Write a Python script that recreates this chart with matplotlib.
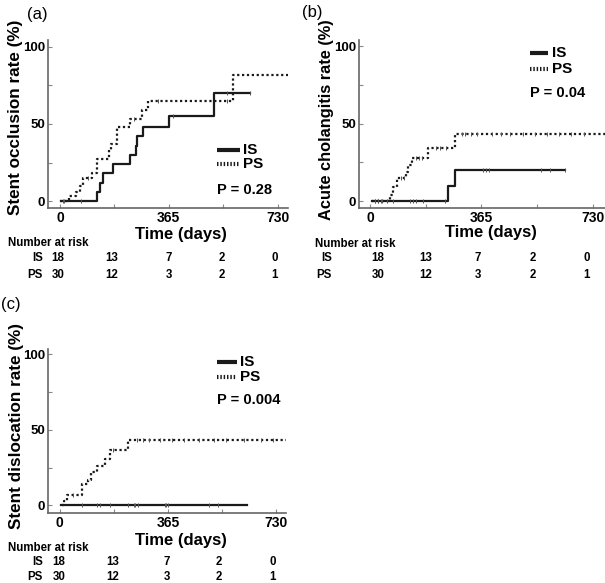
import numpy as np
import matplotlib

matplotlib.use("Agg")
import matplotlib.pyplot as plt

plt.rcParams["font.family"] = ["Liberation Sans", "DejaVu Sans"]

W, H = 605, 583

# (a) stent occlusion
occl_is_t = [3, 126, 134, 145, 178, 234, 254, 259, 277, 365, 517, 636]
occl_is_v = [0, 6, 12, 18, 24, 30, 36, 42, 48, 55, 70, 70]
occl_is_cens = [10, 70, 378, 560, 636]
occl_ps_t = [0, 30, 55, 68, 78, 108, 126, 165, 172, 193, 236, 276, 296, 580, 765]
occl_ps_v = [0, 3, 6, 10, 15, 18, 27, 33, 37, 48, 53, 59, 65, 82, 82]
occl_ps_cens = [15, 95, 250, 330, 560]

# (b) acute cholangitis
chol_is_t = [5, 257, 279, 639]
chol_is_v = [0, 10, 20, 20]
chol_is_cens = [15, 25, 35, 75, 130, 140, 150, 175, 245, 370, 380, 390, 560, 590, 639]
chol_ps_t = [5, 65, 76, 87, 117, 126, 137, 191, 279, 770]
chol_ps_v = [0, 4, 9, 15, 19, 23, 28, 34, 43, 43]
chol_ps_cens = [15, 25, 40, 55, 100, 110, 150, 160, 170, 215, 230, 250, 300, 310,
                330, 350, 400, 430, 460, 500, 540, 580, 620, 660, 700]

# (c) stent dislocation
disl_is_t = [5, 631]
disl_is_v = [0, 0]
disl_is_cens = [75, 125, 135, 170, 230, 250, 255, 265, 355, 360, 365, 505, 535]
disl_ps_t = [8, 14, 26, 75, 95, 107, 126, 154, 171, 230, 765]
disl_ps_v = [0, 3, 7, 14, 17, 22, 26, 31, 37, 43, 43]
disl_ps_cens = [45, 180, 260, 280, 300, 340, 380, 420, 470, 520, 560, 620, 680, 720]

p_values = ["P = 0.28", "P = 0.04", "P = 0.004"]
ylabels = ["Stent occlusion rate (%)", "Acute cholangitis rate (%)", "Stent dislocation rate (%)"]
panel_tags = ["(a)", "(b)", "(c)"]

risk_days = [0, 182.5, 365, 547.5, 730]
risk_is = [18, 13, 7, 2, 0]
risk_ps = [30, 12, 3, 2, 1]

INK = "#1a1a1a"


def fx(x):
    return x / W


def fy(y):
    return 1 - y / H


def step_val(t, v, x):
    i = np.searchsorted(t, x, side="right") - 1
    return np.asarray(v)[np.clip(i, 0, len(v) - 1)]


def draw_panel(box, xlim, ylim, is_t, is_v, is_c, ps_t, ps_v, ps_c, pval, ylabel, lay):
    l, t, r, b = box
    ax = fig.add_axes([fx(l), fy(b), fx(r - l), (b - t) / H])

    def af(xp, yp):
        return (xp - l) / (r - l), (b - yp) / (b - t)

    ax.plot(is_t, is_v, drawstyle="steps-post", color=INK, lw=1.6)
    ax.plot(ps_t, ps_v, drawstyle="steps-post", color=INK, lw=1.6,
            linestyle=(0, (1, 1.2)))
    ax.plot(is_c, step_val(is_t, is_v, is_c), "|", color="#555", ms=3, mew=0.7)
    ax.plot(ps_c, step_val(ps_t, ps_v, ps_c), "|", color="#555", ms=3, mew=0.7)
    ax.set_xlim(*xlim)
    ax.set_ylim(*ylim)
    for s in ["top", "right"]:
        ax.spines[s].set_visible(False)
    for s in ["left", "bottom"]:
        ax.spines[s].set_color("#666")
        ax.spines[s].set_linewidth(1.2)
    ax.set_xticks([0, 365, 730])
    ax.set_xticks([182.5, 547.5], minor=True)
    ax.set_yticks([0, 50, 100])
    ax.set_yticks([25, 75], minor=True)
    ax.tick_params(which="both", direction="in", length=3, color="#888", width=0.8)
    ax.tick_params(axis="x", labelsize=10, pad=2.5)
    ax.tick_params(axis="y", labelsize=9.5, pad=2)
    for lab in ax.get_xticklabels() + ax.get_yticklabels():
        lab.set_fontweight("bold")

    ax.set_xlabel("Time (days)", fontsize=12, fontweight="bold", va="center")
    ax.xaxis.set_label_coords(*af(*lay["xlab"]))
    ax.set_ylabel(ylabel, fontsize=lay["ylab_size"], fontweight="bold")
    ax.yaxis.set_label_coords(*af(*lay["ylab"]))

    # legend drawn by hand
    hx0, hx1 = lay["hx"]
    x0, yi = af(hx0, lay["y_is"])
    x1, yp = af(hx1, lay["y_ps"])
    tx = af(lay["tx"], 0)[0]
    ax.plot([x0, x1], [yi, yi], transform=ax.transAxes, color=INK, lw=3,
            solid_capstyle="butt", clip_on=False)
    ax.plot([x0, x1], [yp, yp], transform=ax.transAxes, color=INK, lw=3,
            linestyle=(0, (0.35, 0.45)), clip_on=False)
    ax.text(tx, yi, "IS", transform=ax.transAxes, fontsize=11,
            fontweight="bold", va="center", ha="left")
    ax.text(tx, yp, "PS", transform=ax.transAxes, fontsize=11,
            fontweight="bold", va="center", ha="left")
    ax.text(x0, af(0, lay["py"])[1], pval, transform=ax.transAxes, fontsize=10.5,
            fontweight="bold", va="center", ha="left")
    return ax


fig = plt.figure(figsize=(W / 100, H / 100), dpi=100)

draw_panel((48, 40, 288, 208), (-40, 765), (-4.5, 104.5),
           occl_is_t, occl_is_v, occl_is_cens,
           occl_ps_t, occl_ps_v, occl_ps_cens,
           p_values[0], ylabels[0],
           dict(hx=(217, 240), y_is=150, y_ps=164, tx=243, py=190,
                ylab=(23, 117), ylab_size=12.3, xlab=(181, 235)))
draw_panel((359, 40, 605, 208), (-36, 770), (-4.5, 104),
           chol_is_t, chol_is_v, chol_is_cens,
           chol_ps_t, chol_ps_v, chol_ps_cens,
           p_values[1], ylabels[1],
           dict(hx=(530, 548), y_is=53, y_ps=69, tx=552, py=93,
                ylab=(334, 120), ylab_size=11.8, xlab=(491, 233)))
draw_panel((48, 349, 286, 513), (-39, 763), (-5, 103.5),
           disl_is_t, disl_is_v, disl_is_cens,
           disl_ps_t, disl_ps_v, disl_ps_cens,
           p_values[2], ylabels[2],
           dict(hx=(217, 237), y_is=362, y_ps=377, tx=240, py=400,
                ylab=(24, 426), ylab_size=12.3, xlab=(181, 540)))

# panel tags
fig.text(fx(27), fy(15), panel_tags[0], fontsize=12, va="center", ha="left")
fig.text(fx(302), fy(13), panel_tags[1], fontsize=12, va="center", ha="left")
fig.text(fx(1), fy(305), panel_tags[2], fontsize=12, va="center", ha="left")

# number at risk tables
risk_cols = [[58, 112, 169, 222, 275],
             [378, 426, 478, 533, 587],
             [59, 113, 167, 219, 273]]
risk_rows = [(243, 258, 275), (244, 258, 275), (548, 562, 577)]
risk_head_x = [8, 315, 8]
risk_lab_x = [43, 332, 43]
for k in range(3):
    hy, iy, py = risk_rows[k]
    fig.text(fx(risk_head_x[k]), fy(hy), "Number at risk", fontsize=8.3,
             fontweight="bold", va="center", ha="left")
    fig.text(fx(risk_lab_x[k]), fy(iy), "IS", fontsize=8.3, fontweight="bold",
             va="center", ha="right")
    fig.text(fx(risk_lab_x[k]), fy(py), "PS", fontsize=8.3, fontweight="bold",
             va="center", ha="right")
    for cx, n_is, n_ps in zip(risk_cols[k], risk_is, risk_ps):
        fig.text(fx(cx), fy(iy), str(n_is), fontsize=8.3, fontweight="bold",
                 va="center", ha="center")
        fig.text(fx(cx), fy(py), str(n_ps), fontsize=8.3, fontweight="bold",
                 va="center", ha="center")

fig.savefig("out.png", dpi=100)
